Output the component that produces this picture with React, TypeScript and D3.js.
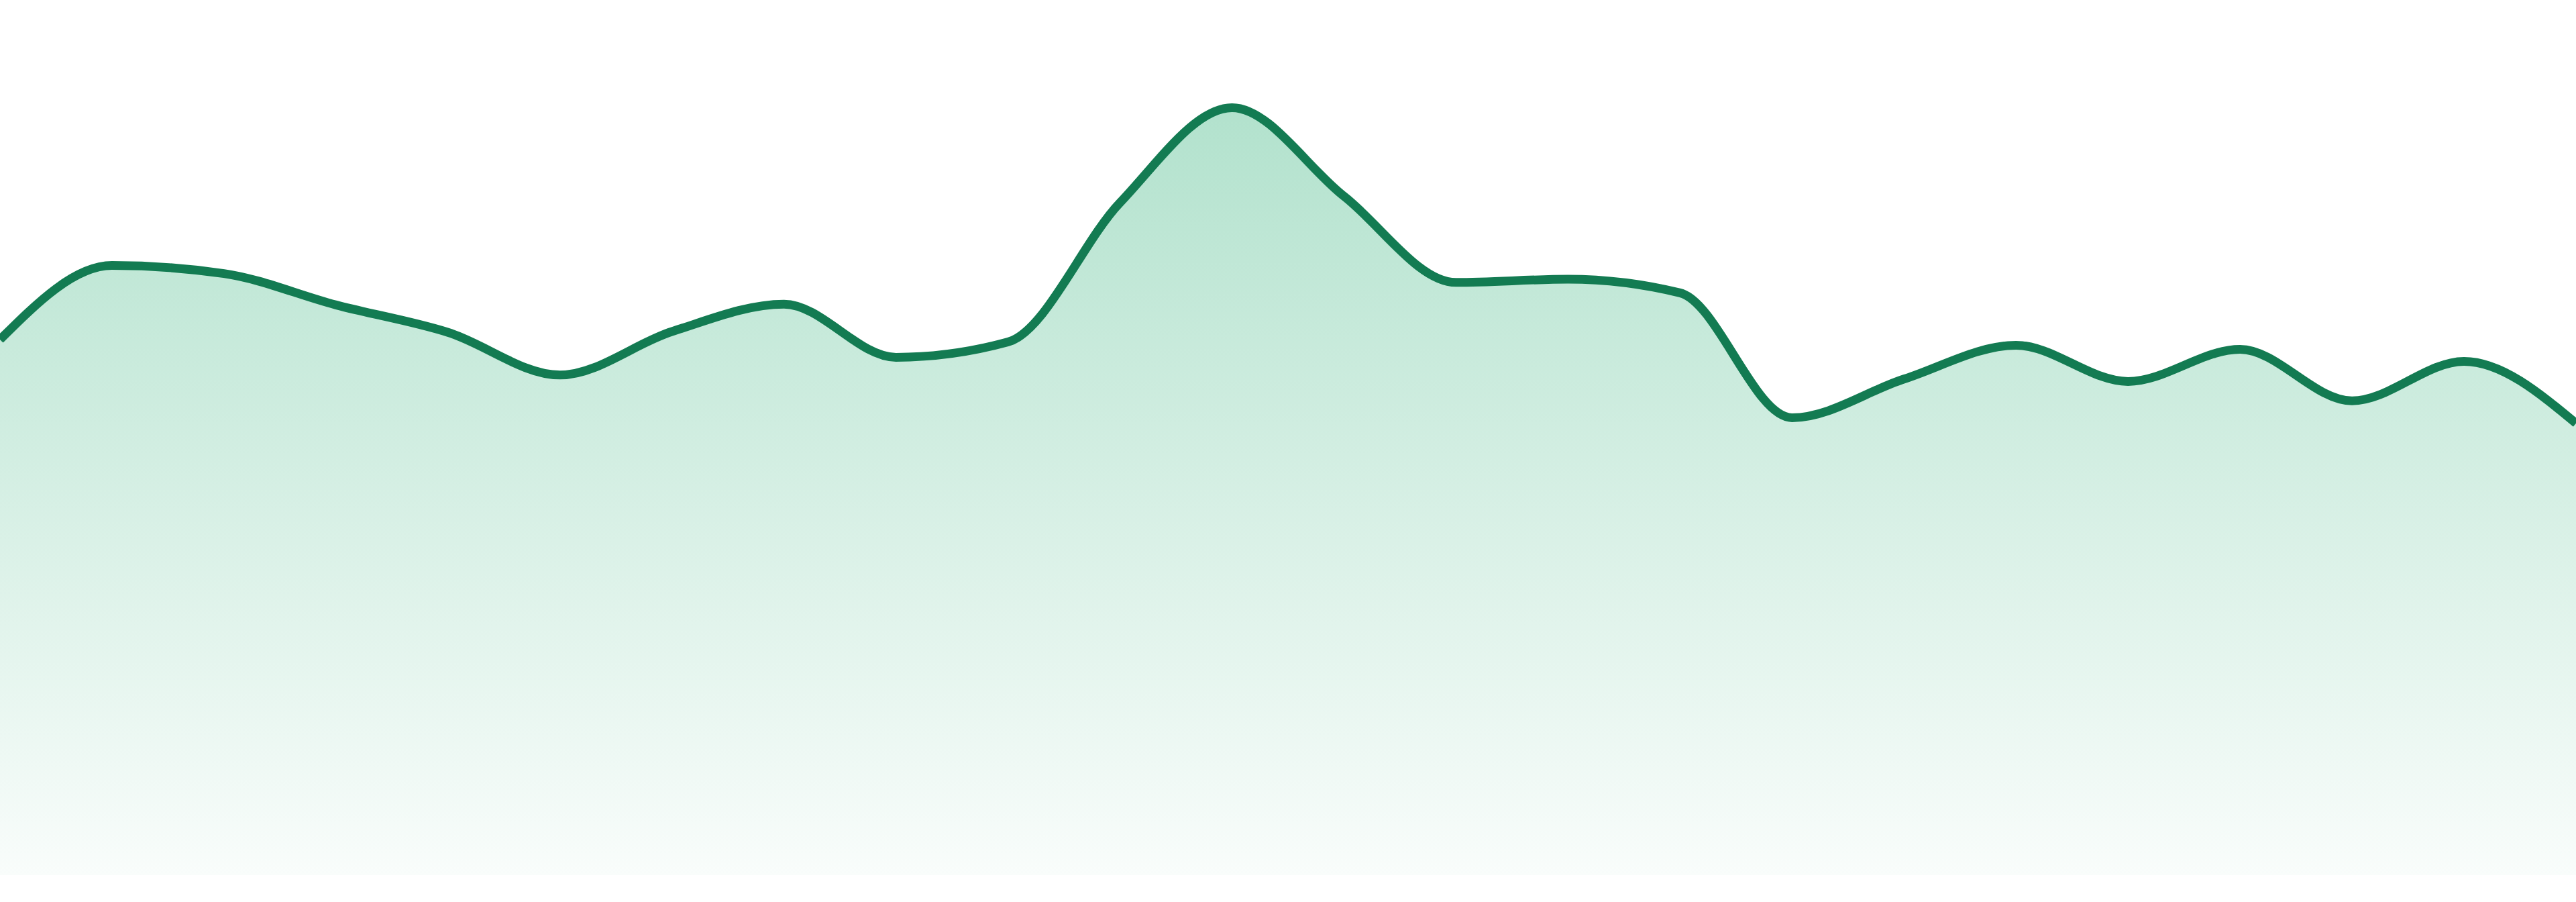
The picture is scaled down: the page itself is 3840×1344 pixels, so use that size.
import React from 'react';
import * as d3 from 'd3';

// hourly readings, 24 points across the full width
const hours = [
  '00:00', '01:00', '02:00', '03:00', '04:00', '05:00', '06:00', '07:00',
  '08:00', '09:00', '10:00', '11:00', '12:00', '13:00', '14:00', '15:00',
  '16:00', '17:00', '18:00', '19:00', '20:00', '21:00', '22:00', '23:00',
];
const values = [
  665, 757, 747, 708, 674, 621, 675, 709,
  643, 662, 835, 953, 843, 736, 740, 723,
  568, 616, 658, 613, 653, 589, 638, 561,
];

const WIDTH = 3840;
const HEIGHT = 1344;
const BASELINE = 1304;

const LINE_COLOR = '#137b52';
const FILL_COLOR = '#34b27b';

export default function App() {
  const x = d3.scalePoint<string>().domain(hours).range([0, WIDTH]);
  const y = d3.scaleLinear().domain([0, 1000]).range([BASELINE, 104]);

  const data = hours.map((h, i) => ({ h, v: values[i] }));

  const area = d3.area<{ h: string; v: number }>()
    .x(d => x(d.h) as number)
    .y0(BASELINE)
    .y1(d => y(d.v))
    .curve(d3.curveMonotoneX);

  const line = d3.line<{ h: string; v: number }>()
    .x(d => x(d.h) as number)
    .y(d => y(d.v))
    .curve(d3.curveMonotoneX);

  return (
    <div style={{ position: 'absolute', left: 0, top: 0 }}>
      <svg width={WIDTH} height={HEIGHT} style={{ display: 'block', background: '#fff' }}>
        <defs>
          <linearGradient id="areaFill" x1="0" y1="0" x2="0" y2="1">
            <stop offset="0%" stopColor={FILL_COLOR} stopOpacity={0.38} />
            <stop offset="100%" stopColor={FILL_COLOR} stopOpacity={0.03} />
          </linearGradient>
        </defs>
        <path d={area(data) || ''} fill="url(#areaFill)" />
        <path
          d={line(data) || ''}
          fill="none"
          stroke={LINE_COLOR}
          strokeWidth={13}
          strokeLinejoin="round"
        />
      </svg>
    </div>
  );
}
